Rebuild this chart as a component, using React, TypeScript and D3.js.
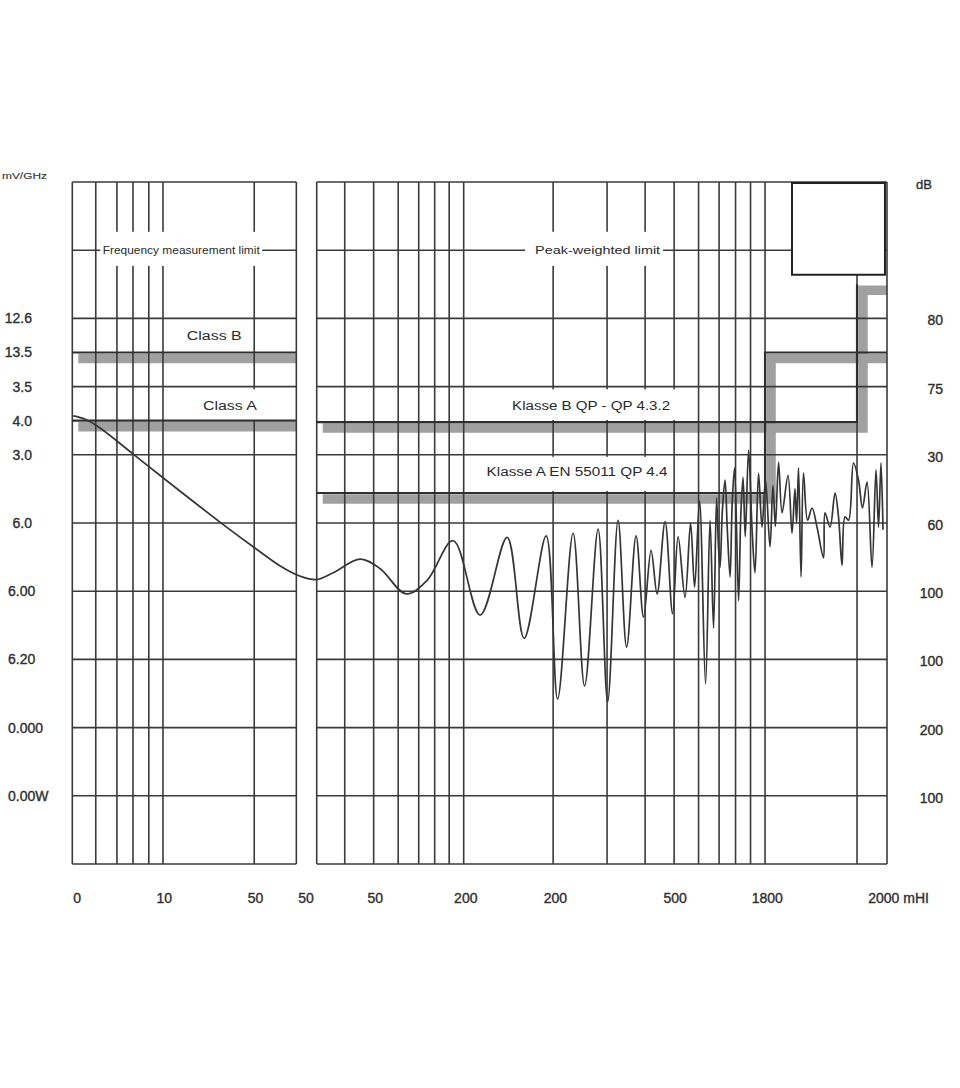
import * as d3 from 'd3';

// x runs 0..100 across both panels, y runs 0..10 grid rows (bottom to top)
const leftPanel = [0, 27.5];
const rightPanel = [30, 100];
const leftGrid = [2.88, 5.48, 7.45, 9.39, 11.13, 22.33];
const rightGrid = [33.44, 36.99, 40.0, 42.52, 44.48, 46.26, 48.04, 59.02, 65.64, 70.31, 73.87, 76.87, 79.39, 81.41, 83.25, 85.03, 96.32];
const gridRows = [0, 1, 2, 3, 4, 5, 6, 7, 8, 9, 10];

const leftTickRows = [8, 7.5, 7, 6.5, 6, 5, 4, 3, 2, 1];
const leftTickLabels = ["12.6", "13.5", "3.5", "4.0", "3.0", "6.0", "6.00", "6.20", "0.000", "0.00W"];
const rightTickRows = [8, 7, 6, 5, 4, 3, 2, 1];
const rightTickLabels = ["80", "75", "30", "60", "100", "100", "200", "100"];
const bottomTickPos = [0.6, 11.3, 22.5, 28.7, 37.2, 48.3, 59.3, 74.0, 85.3, 97.7];
const bottomTickLabels = ["0", "10", "50", "50", "50", "200", "200", "500", "1800", "2000 mHI"];

// limit lines [x, row]
const classB: [number, number][] = [[0, 7.5], [27.5, 7.5]];
const classA: [number, number][] = [[0, 6.5], [27.5, 6.5]];
const klasseB: [number, number][] = [[30, 6.48], [96.32, 6.48], [96.32, 8.5], [100, 8.5]];
const klasseA: [number, number][] = [[30, 5.44], [85.03, 5.44], [85.03, 7.5], [100, 7.5]];

// measured trace [x, row]
const trace: [number, number][] = [
  [0.12, 6.57], [1.60, 6.52], [3.44, 6.39], [7.48, 6.01], [11.17, 5.66], [18.16, 5.01],
  [22.45, 4.63], [25.52, 4.37], [27.98, 4.22], [29.94, 4.17],
  [32.02, 4.27], [35.34, 4.47], [37.79, 4.33], [40.98, 3.96], [43.56, 4.16],
  [46.75, 4.74], [50.06, 3.65], [53.37, 4.79], [55.46, 3.31], [58.16, 4.81], [59.57, 2.42],
  [61.47, 4.85], [62.88, 2.61], [64.54, 4.91], [65.71, 2.38], [66.99, 5.04], [68.04, 3.18],
  [69.20, 4.81], [70.12, 3.62], [71.04, 4.60], [71.78, 3.96], [72.76, 5.02], [73.68, 3.67],
  [74.36, 4.80], [75.21, 3.91], [75.89, 5.00], [76.38, 4.06], [76.99, 5.32], [77.73, 2.64],
  [78.28, 5.04], [78.71, 3.46], [79.08, 5.37], [79.30, 4.70], [79.51, 4.35], [79.80, 5.20],
  [80.12, 5.63], [80.40, 4.90], [80.74, 4.21], [81.00, 5.30], [81.29, 5.81], [81.78, 3.86],
  [82.05, 5.10], [82.33, 5.67], [82.60, 4.80], [83.01, 6.07], [83.44, 4.90], [83.80, 4.27],
  [84.23, 5.73], [84.66, 4.94], [85.09, 5.63], [85.64, 4.65], [86.00, 5.55], [86.30, 4.95],
  [86.69, 5.89], [87.12, 5.15], [87.85, 5.70], [88.34, 4.85], [88.70, 5.50], [88.90, 5.00],
  [89.14, 5.81], [89.45, 4.21], [89.75, 5.73], [90.25, 5.04], [90.80, 5.22], [91.41, 4.94],
  [92.21, 4.49], [92.39, 5.15], [93.01, 4.94], [93.62, 5.44], [94.05, 5.09], [94.48, 4.38],
  [94.85, 5.09], [95.28, 5.04], [95.89, 5.88], [96.50, 5.63], [96.99, 5.22], [97.55, 5.60],
  [98.16, 4.35], [98.65, 5.78], [98.96, 4.94], [99.26, 5.88], [99.51, 4.90],
];

const annotations = [
  { text: "Frequency measurement limit", x: 13.37, y: 9.0, len: 157, size: 10.5, bg: [3.44, 23.31, 9.27, 8.77] },
  { text: "Peak-weighted limit", x: 64.48, y: 9.0, len: 125, size: 11, bg: [55.58, 72.52, 9.27, 8.77] },
  { text: "Class  B", x: 17.42, y: 7.74, len: 55, size: 12, bg: null },
  { text: "Class A", x: 19.35, y: 6.72, len: 54, size: 12, bg: [15.58, 23.07, 6.96, 6.51] },
  { text: "Klasse B QP -  QP 4.3.2", x: 63.68, y: 6.72, len: 158, size: 12, bg: [52.52, 75.83, 6.96, 6.51] },
  { text: "Klasse A  EN 55011 QP 4.4", x: 61.96, y: 5.75, len: 181, size: 12, bg: [49.82, 73.5, 5.97, 5.47] },
];

const W = 960;
const H = 1088;
const x = d3.scaleLinear().domain([0, 100]).range([72.3, 887]);
const y = d3.scaleLinear().domain([0, 10]).range([864, 182]);

const font = '"Liberation Sans", Arial, sans-serif';
const gridColor = '#3a3a3a';
const labelColor = '#2e2e2e';

export default function App() {
  const line = d3.line<[number, number]>().x(d => x(d[0])).y(d => y(d[1]));
  const traceLine = d3.line<[number, number]>().x(d => x(d[0])).y(d => y(d[1])).curve(d3.curveCatmullRom.alpha(0.5));
  const panels = [
    { id: 'lp', ext: leftPanel, grid: leftGrid },
    { id: 'rp', ext: rightPanel, grid: rightGrid },
  ];

  return (
    <svg width={W} height={H} style={{ position: 'absolute', left: 0, top: 0, background: '#fff' }} fontFamily={font}>
      <defs>
        {panels.map(p => (
          <clipPath id={`clip-${p.id}`} key={p.id}>
            <rect x={x(p.ext[0])} y={y(10)} width={x(p.ext[1]) - x(p.ext[0])} height={y(0) - y(10)} />
          </clipPath>
        ))}
      </defs>
      <rect width={W} height={H} fill="#fff" />

      {/* grey shadow bands under the limit lines */}
      <g clipPath="url(#clip-lp)">
        {[classB, classA].map((d, i) => (
          <path key={i} d={line(d) ?? ''} transform="translate(6,6)" fill="none" stroke="#a0a0a0" strokeWidth={9.5} strokeLinejoin="miter" />
        ))}
      </g>
      <g clipPath="url(#clip-rp)">
        {[klasseB, klasseA].map((d, i) => (
          <path key={i} d={line(d) ?? ''} transform="translate(6,6)" fill="none" stroke="#a0a0a0" strokeWidth={9.5} strokeLinejoin="miter" />
        ))}
      </g>

      {/* grid */}
      {panels.map(p => (
        <g key={p.id} stroke={gridColor} strokeWidth={1.6}>
          {gridRows.map(r => (
            <line key={`h${r}`} x1={x(p.ext[0])} x2={x(p.ext[1])} y1={y(r)} y2={y(r)} />
          ))}
          {[p.ext[0], ...p.grid, p.ext[1]].map(g => (
            <line key={`v${g}`} x1={x(g)} x2={x(g)} y1={y(10)} y2={y(0)} />
          ))}
        </g>
      ))}

      {/* annotation labels with white backing */}
      {annotations.map(a => (
        <g key={a.text}>
          {a.bg && (
            <rect x={x(a.bg[0])} y={y(a.bg[2])} width={x(a.bg[1]) - x(a.bg[0])} height={y(a.bg[3]) - y(a.bg[2])} fill="#fff" />
          )}
          <text x={x(a.x)} y={y(a.y)} dy="0.35em" textAnchor="middle" fontSize={a.size} fill="#2a2a2a"
            textLength={a.len} lengthAdjust="spacingAndGlyphs">{a.text}</text>
        </g>
      ))}

      {/* dark limit lines */}
      <g fill="none" stroke="#2e2e2e" strokeWidth={2.2}>
        <path d={line(classB) ?? ''} />
        <path d={line(classA) ?? ''} />
        <path d={line(klasseB.slice(0, 3)) ?? ''} />
        <path d={line(klasseA) ?? ''} />
      </g>

      {/* empty box top right */}
      <rect x={x(88.34)} y={y(9.985)} width={x(99.75) - x(88.34)} height={y(8.64) - y(9.985)} fill="#fff" stroke="#222" strokeWidth={2} />

      {/* trace */}
      <path d={traceLine(trace) ?? ''} fill="none" stroke="#353535" strokeWidth={1.7} strokeLinejoin="round" />

      {/* axes labels */}
      <g fill={labelColor} stroke={labelColor} strokeWidth={0.35}>
        <text x={2} y={176} dy="0.35em" fontSize={9} strokeWidth={0.1} textLength={45} lengthAdjust="spacingAndGlyphs">mV/GHz</text>
        <text x={916} y={y(10) + 2} dy="0.35em" fontSize={13}>dB</text>
        {leftTickRows.map((r, i) => (
          <text key={`l${i}`} x={r >= 5 ? 32 : 8} y={y(r)} dy="0.35em" fontSize={14} textAnchor={r >= 5 ? 'end' : 'start'}>
            {leftTickLabels[i]}
          </text>
        ))}
        {rightTickRows.map((r, i) => (
          <text key={`r${i}`} x={943} y={y(r) + 2} dy="0.35em" fontSize={14} textAnchor="end">
            {rightTickLabels[i]}
          </text>
        ))}
        {bottomTickPos.map((p, i) => (
          <text key={`b${i}`} x={x(p)} y={898} dy="0.35em" fontSize={14}
            textAnchor={i === bottomTickPos.length - 1 ? 'start' : 'middle'}>
            {bottomTickLabels[i]}
          </text>
        ))}
      </g>
    </svg>
  );
}
